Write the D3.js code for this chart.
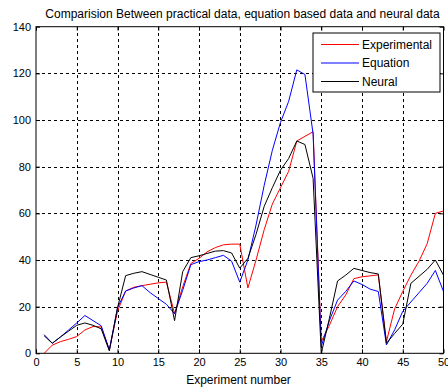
<!DOCTYPE html>
<html>
<head>
<meta charset="utf-8">
<script src="https://cdn.jsdelivr.net/npm/d3@7"></script>
<style>
body { margin: 0; background: #fff; }
svg { display: block; font-family: "Liberation Sans", Arial, sans-serif; }
</style>
</head>
<body>
<div id="chart"></div>
<script>
'use strict';

// experiment numbers (x)
var experiments = [1, 2, 3, 4, 5, 6, 7, 8, 9, 10, 11, 12, 13, 14, 15, 16, 17, 18, 19, 20,
    21, 22, 23, 24, 25, 26, 27, 28, 29, 30, 31, 32, 33, 34, 35, 36, 37, 38, 39, 40,
    41, 42, 43, 44, 45, 46, 47, 48, 49, 50];

var experimental = [0, 3.5, 5, 6, 7.2, 10, 11.5, 11.3, 1.5, 18,
    26.7, 28.3, 29, 29.6, 30.2, 30.5, 17, 28.5, 38.5, 40.7,
    43.5, 45.3, 46.5, 46.8, 46.8, 28, 40, 53, 64, 71,
    78, 91, 93, 95, 5, 12, 20, 25, 32, 32.8,
    33.2, 33.6, 5, 19, 26.5, 33.5, 39.5, 47, 60, 61];

var equation = [8, 4.3, 7, 10, 13, 16.2, 14, 11.8, 1.5, 19.5,
    26.7, 28, 29, 26, 23.5, 21, 17, 27, 38, 39.3,
    40, 41, 42, 39.5, 30.5, 40, 55, 72, 87, 99,
    108, 121.5, 119.5, 94, 3, 14, 22.8, 26.5, 31, 29.5,
    27.5, 26.5, 3.6, 10, 18, 22, 26, 30, 35.5, 26.5];

var neural = [7.5, 4.3, 7, 9.5, 12, 13, 12, 10.5, 1, 19.5,
    33.3, 34.3, 35, 33.8, 32.6, 31.4, 14, 35, 41, 41.8,
    42.8, 43.8, 44, 43, 36.5, 40.7, 51, 63, 71, 78.5,
    83.5, 91, 89.5, 75, 0, 15, 31, 33.5, 36.4, 35.5,
    34.6, 34, 4.3, 8.5, 12.5, 30, 33, 36, 40, 33.5];

var seriesNames = ['Experimental', 'Equation', 'Neural'];
var seriesColors = ['#ff0000', '#0000ff', '#000000'];
var xTicks = [0, 5, 10, 15, 20, 25, 30, 35, 40, 45, 50];
var yTicks = [0, 20, 40, 60, 80, 100, 120, 140];

var W = 448, H = 387;
var padL = 36, padR = 443.5, padT = 26.7, padB = 353.3;

var svg = d3.select('#chart')
    .append('svg')
    .attr('width', W)
    .attr('height', H);

var x = d3.scaleLinear().domain([0, 50]).range([padL, padR]);
var y = d3.scaleLinear().domain([0, 140]).range([padB, padT]);

// grid (dotted)
var grid = svg.append('g')
    .attr('stroke', '#000')
    .attr('stroke-width', 1)
    .attr('stroke-dasharray', '3,3')
    .attr('shape-rendering', 'crispEdges');
grid.selectAll('.gx')
    .data(xTicks.slice(1, -1))
    .enter().append('line')
    .attr('x1', function(d) { return Math.round(x(d)) + 0.5; })
    .attr('x2', function(d) { return Math.round(x(d)) + 0.5; })
    .attr('y1', padT)
    .attr('y2', padB);
grid.selectAll('.gy')
    .data(yTicks.slice(1, -1))
    .enter().append('line')
    .attr('y1', function(d) { return Math.round(y(d)) + 0.5; })
    .attr('y2', function(d) { return Math.round(y(d)) + 0.5; })
    .attr('x1', padL)
    .attr('x2', padR);

// lines
var series = [experimental, equation, neural];
var line = d3.line()
    .x(function(d, i) { return x(experiments[i]); })
    .y(function(d) { return y(d); });

svg.selectAll('path.series')
    .data(series)
    .enter().append('path')
    .attr('class', 'series')
    .attr('fill', 'none')
    .attr('stroke', function(d, i) { return seriesColors[i]; })
    .attr('stroke-width', 1)
    .attr('d', line);

// axes, ticks pointing inward
function styleAxis(g) {
    g.select('.domain').remove();
    g.selectAll('.tick line').attr('stroke', '#000');
    g.selectAll('.tick text')
        .attr('fill', '#000')
        .style('font-size', '11px')
        .style('font-family', '"Liberation Sans", Arial, sans-serif');
}

svg.append('g')
    .attr('transform', 'translate(0,' + padB + ')')
    .call(d3.axisBottom(x).tickValues(xTicks).tickSize(-4).tickPadding(5))
    .call(styleAxis);
svg.append('g')
    .attr('transform', 'translate(0,' + padT + ')')
    .call(d3.axisTop(x).tickValues(xTicks).tickSize(-4).tickFormat(''))
    .call(styleAxis);
svg.append('g')
    .attr('transform', 'translate(' + padL + ',0)')
    .call(d3.axisLeft(y).tickValues(yTicks).tickSize(-4).tickPadding(5))
    .call(styleAxis);
svg.append('g')
    .attr('transform', 'translate(' + padR + ',0)')
    .call(d3.axisRight(y).tickValues(yTicks).tickSize(-4).tickFormat(''))
    .call(styleAxis);

// frame
svg.append('rect')
    .attr('x', padL)
    .attr('y', padT)
    .attr('width', padR - padL)
    .attr('height', padB - padT)
    .attr('fill', 'none')
    .attr('stroke', '#000')
    .attr('stroke-width', 1);

// title and label
svg.append('text')
    .attr('x', 242.5)
    .attr('y', 18)
    .attr('text-anchor', 'middle')
    .style('font-size', '12px')
    .text('Comparision Between practical data, equation based data and neural data');

svg.append('text')
    .attr('x', 238.5)
    .attr('y', 384)
    .attr('text-anchor', 'middle')
    .style('font-size', '12px')
    .text('Experiment number');

// legend
var legend = svg.append('g').attr('transform', 'translate(313,33)');
legend.append('rect')
    .attr('width', 127)
    .attr('height', 59)
    .attr('fill', '#fff')
    .attr('stroke', '#000')
    .attr('stroke-width', 1);
var items = legend.selectAll('.item')
    .data(seriesNames)
    .enter().append('g')
    .attr('transform', function(d, i) { return 'translate(0,' + (11.5 + i * 18.5) + ')'; });
items.append('line')
    .attr('x1', 8)
    .attr('x2', 46)
    .attr('stroke', function(d, i) { return seriesColors[i]; })
    .attr('stroke-width', 1);
items.append('text')
    .attr('x', 49)
    .attr('y', 4)
    .style('font-size', '12px')
    .text(function(d) { return d; });
</script>
</body>
</html>
